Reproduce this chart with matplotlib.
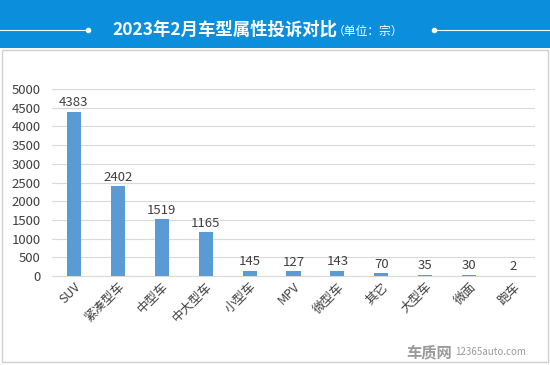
import matplotlib
matplotlib.use("Agg")
from matplotlib import pyplot as plt
from matplotlib.patches import Rectangle

plt.rcParams['font.family'] = ['Noto Sans CJK SC', 'DejaVu Sans']

categories = ['SUV', '紧凑型车', '中型车', '中大型车', '小型车', 'MPV', '微型车', '其它', '大型车', '微面', '跑车']
complaints = [4383, 2402, 1519, 1165, 145, 127, 143, 70, 35, 30, 2]
yticks = [0, 500, 1000, 1500, 2000, 2500, 3000, 3500, 4000, 4500, 5000]

title = '2023年2月车型属性投诉对比'
unit = '（单位：宗）'

fig = plt.figure(figsize=(5.5, 3.65), dpi=100)
fig.patch.set_facecolor('white')

# header band
fig.patches.append(Rectangle((0, 1 - 48/365), 1, 48/365, transform=fig.transFigure,
                             facecolor='#0B8EDB', edgecolor='none', zorder=0))
# light frame around the chart
fig.patches.append(Rectangle((2/550, 3/365), 546/550, (365 - 48 - 5)/365, transform=fig.transFigure,
                             facecolor='none', edgecolor='#D0D0D0', lw=1, zorder=0))
ty = 1 - 30/365
fig.add_artist(plt.Line2D([0, 88/550], [ty, ty], color='white', lw=0.8, transform=fig.transFigure))
fig.add_artist(plt.Line2D([434/550, 1], [ty, ty], color='white', lw=0.8, transform=fig.transFigure))
fig.add_artist(plt.Line2D([88/550], [ty], marker='o', ms=3, color='white', transform=fig.transFigure))
fig.add_artist(plt.Line2D([434/550], [ty], marker='o', ms=3, color='white', transform=fig.transFigure))
fig.text(112/550, ty, title, color='white', fontsize=12.5, fontweight='bold', va='center', ha='left')
fig.text(333/550, ty - 0.003, unit, color='white', fontsize=8.5, va='center', ha='left')

ax = fig.add_axes([52/550, 89/365, 483/550, 187/365])
x = range(len(categories))
bars = ax.bar(x, complaints, width=0.32, color='#5B9BD5', zorder=3)
for xi, v in zip(x, complaints):
    ax.text(xi, v + 70, str(v), ha='center', va='bottom', fontsize=9.5, color='#404040')

ax.set_xlim(-0.5, len(categories) - 0.5)
ax.set_ylim(0, 5000)
ax.set_yticks(yticks)
ax.set_yticklabels([str(t) for t in yticks], fontsize=9.5, color='#404040')
ax.set_xticks(list(x))
ax.set_xticklabels(categories, rotation=45, ha='right', rotation_mode='anchor', fontsize=9, color='#404040')
ax.grid(axis='y', color='#D9D9D9', lw=0.8, zorder=0)
for s in ['top', 'right', 'left']:
    ax.spines[s].set_visible(False)
ax.spines['bottom'].set_color('#D9D9D9')
ax.tick_params(axis='both', length=0, pad=3)
ax.tick_params(axis='y', pad=8)

# watermark
fig.text(452/550, 1 - 352/365, '车质网', fontsize=11, fontweight='bold', color='#9A9A9A', ha='right', va='center')
fig.text(455/550, 1 - 352/365, '12365auto.com', fontsize=7, color='#9A9A9A', ha='left', va='center')

plt.savefig('out.png', dpi=100)
